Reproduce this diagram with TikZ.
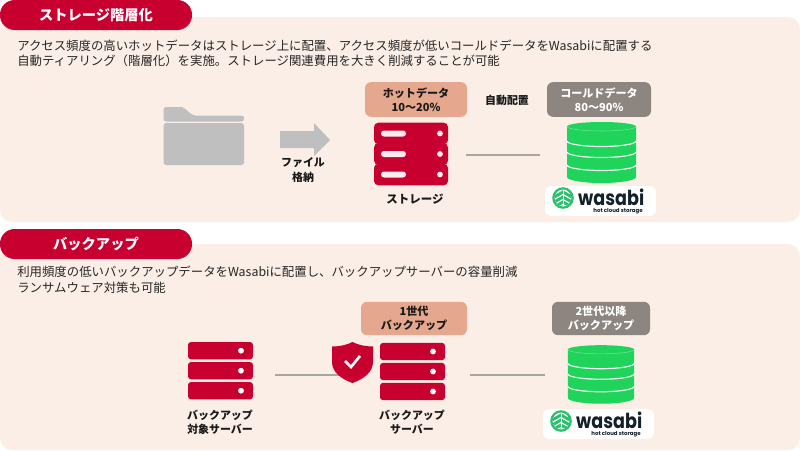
\documentclass[tikz,border=0pt]{standalone}
\usepackage{fontspec}
\setmainfont{Noto Sans CJK JP}
\definecolor{panelbg}{HTML}{FBEEE6}
\definecolor{crim}{HTML}{C8002F}
\definecolor{salmon}{HTML}{E5A88E}
\definecolor{taupe}{HTML}{8C8580}
\definecolor{dbgreen}{HTML}{1FD35B}
\definecolor{leafgreen}{HTML}{2BBF6E}
\definecolor{foldergrey}{HTML}{BFBFBF}
\definecolor{linegrey}{HTML}{A9A5A2}
\definecolor{wink}{HTML}{14212B}
\tikzset{
  panel/.style={fill=panelbg,draw=none,rounded corners=9pt},
  headpill/.style={fill=crim,draw=none,rounded corners=11pt,text=white,font=\fontsize{10.7}{12}\selectfont\bfseries,inner sep=0pt,minimum width=144pt,minimum height=22.5pt},
  bodytext/.style={anchor=north west,align=left,inner sep=0pt,font=\fontsize{9.3}{11.4}\selectfont,text=black!85},
  lbl/.style={align=center,inner sep=0pt,font=\fontsize{8.2}{10.6}\selectfont\bfseries,text=black!90},
  salmonbox/.style={fill=salmon,rounded corners=4.5pt,align=center,inner sep=0pt,minimum width=76.5pt,minimum height=26pt,font=\fontsize{8.3}{10.8}\selectfont\bfseries,text=black!90},
  taupebox/.style={fill=taupe,rounded corners=4.5pt,align=center,inner sep=0pt,minimum width=78pt,minimum height=26pt,font=\fontsize{8.3}{10.8}\selectfont\bfseries,text=white},
  link/.style={draw=linegrey,line width=1.5pt},
  anchorpt/.style={inner sep=0pt,minimum size=0pt},
  pics/serverstack/.style={code={
    \foreach \yy in {0,20,40}{
      \fill[crim,rounded corners=2.2pt] (-32.5,\yy-8.6) rectangle (32.5,\yy+8.6);
      \fill[white] (20.5,\yy) circle[radius=2.9];
    }
  }},
  pics/storagestack/.style={code={
    \foreach \yy in {0,20.5,41}{
      \fill[crim,rounded corners=3.2pt] (-37,\yy-10.8) rectangle (37,\yy+10.8);
      \fill[white!92!crim,rounded corners=2.2pt] (-30,\yy-3) rectangle (-5,\yy+3);
      \fill[white!92!crim] (29,\yy) circle[radius=2.9];
    }
  }},
  pics/dbstack/.style={code={
    \fill[dbgreen] (-34.5,0) -- (-34.5,50.5) arc[start angle=180,end angle=0,x radius=34.5,y radius=6] -- (34.5,0) arc[start angle=0,end angle=-180,x radius=34.5,y radius=4.5] -- cycle;
    \draw[white!35!dbgreen,line width=0.4pt] (-34.5,0) arc[start angle=180,end angle=0,x radius=34.5,y radius=4.5];
    \foreach \yy in {14.5,25.5,38.5}{
      \draw[white!92!dbgreen,line width=0.9pt] (-34.5,\yy) arc[start angle=180,end angle=0,x radius=34.5,y radius=5.5];
    }
  }},
  pics/wasabilogo/.style={code={
    \fill[white,rounded corners=4pt] (-55.5,-15) rectangle (55.5,15);
    \fill[leafgreen] (-37.5,-3) circle[radius=10.8];
    \begin{scope}
      \clip (-37.5,-3) circle[radius=8.4];
      \fill[white] (-37.5,-3) circle[radius=8.4];
      \foreach \yy in {-9,-4,1,6}{
        \draw[leafgreen,line width=2.2pt] (-48,\yy+6) -- (-37.5,\yy) -- (-27,\yy+6);
      }
      \fill[white] (-38,-12) rectangle (-37,6);
    \end{scope}
    \node[anchor=base west,inner sep=0pt,text=wink,xscale=.85,font=\fontsize{15.5}{16}\fontspec{Poppins}\bfseries] at (-22.5,4) {wasabi};
    \node[anchor=base east,inner sep=0pt,text=wink,font=\fontsize{4.1}{5}\fontspec{Poppins}\bfseries] at (42.5,11.5) {hot cloud storage};
  }},
}
\begin{document}
\begin{tikzpicture}[x=0.75pt,y=-0.75pt]
\useasboundingbox (0,0) rectangle (800,450);
\fill[white] (0,0) rectangle (800,450);
% panels
\fill[panel] (0,17) rectangle (800,222);
\fill[panel] (0,244) rectangle (800,450);
% headers
\node[headpill] (head1) at (96,15) {ストレージ階層化};
\node[headpill] (head2) at (96,244) {バックアップ};
% text
\node[bodytext] (desc1) at (17,39.5) {アクセス頻度の高いホットデータはストレージ上に配置、アクセス頻度が低いコールドデータをWasabiに配置する\\自動ティアリング（階層化）を実施。ストレージ関連費用を大きく削減することが可能};
\node[bodytext] (desc2) at (17,266) {利用頻度の低いバックアップデータをWasabiに配置し、バックアップサーバーの容量削減\\ランサムウェア対策も可能};
% folder
\fill[foldergrey,rounded corners=2pt] (163.5,121.5) -- (163.5,107) -- (183,107) -- (193,115.5) -- (244,115.5) -- (244,121.5) -- cycle;
\fill[foldergrey,rounded corners=2pt] (163.5,123) rectangle (244,165);
% arrow
\fill[foldergrey] (280,131) -- (314,131) -- (314,123) -- (330,140) -- (314,156) -- (314,148) -- (280,148) -- cycle;
\node[lbl] (store) at (303,170) {ファイル\\格納};
% section 1
\node[salmonbox] (hot) at (416,99.5) {ホットデータ\\10～20\%};
\pic at (411,133.5) {storagestack};
\node[lbl,font=\fontsize{8.6}{10.6}\selectfont\bfseries] (stlabel) at (415,199) {ストレージ};
\node[lbl] (auto) at (507,100) {自動配置};
\node[taupebox] (cold) at (599,99.5) {コールドデータ\\80～90\%};
\pic at (601.5,126.5) {dbstack};
\pic at (600.5,201) {wasabilogo};
\node[anchorpt] (st1) at (466,155) {};
\node[anchorpt] (db1) at (540,155) {};
\draw[link] (st1) -- (db1);
% section 2
\node[salmonbox,minimum width=79.5pt,minimum height=25pt] (gen1) at (414,318.5) {1世代\\バックアップ};
\node[taupebox,minimum width=73.5pt,minimum height=25pt] (gen2) at (601,318.5) {2世代以降\\バックアップ};
\pic at (220.5,350.7) {serverstack};
\pic at (412.5,351.5) {serverstack};
\node[lbl] (src) at (220,422) {バックアップ\\対象サーバー};
\node[lbl] (bksv) at (412,422) {バックアップ\\サーバー};
\node[anchorpt] (srv1) at (275,375) {};
\node[anchorpt] (srv2) at (345,375) {};
\draw[link] (srv1) -- (srv2);
\node[anchorpt] (srv3) at (470,375) {};
\node[anchorpt] (db2) at (545,375) {};
\draw[link] (srv3) -- (db2);
% shield
\fill[crim] (352.5,342) .. controls (358,345) and (366,346.5) .. (373,346.5) -- (373,362) .. controls (373,372) and (364,379) .. (352.5,383) .. controls (341,379) and (332,372) .. (332,362) -- (332,346.5) .. controls (339,346.5) and (347,345) .. (352.5,342) -- cycle;
\draw[white,line width=2pt] (345,361) -- (351,367) -- (360,356);
\pic[scale=.96] at (601,349.5) {dbstack};
\pic at (598.5,424) {wasabilogo};
\end{tikzpicture}
\end{document}
